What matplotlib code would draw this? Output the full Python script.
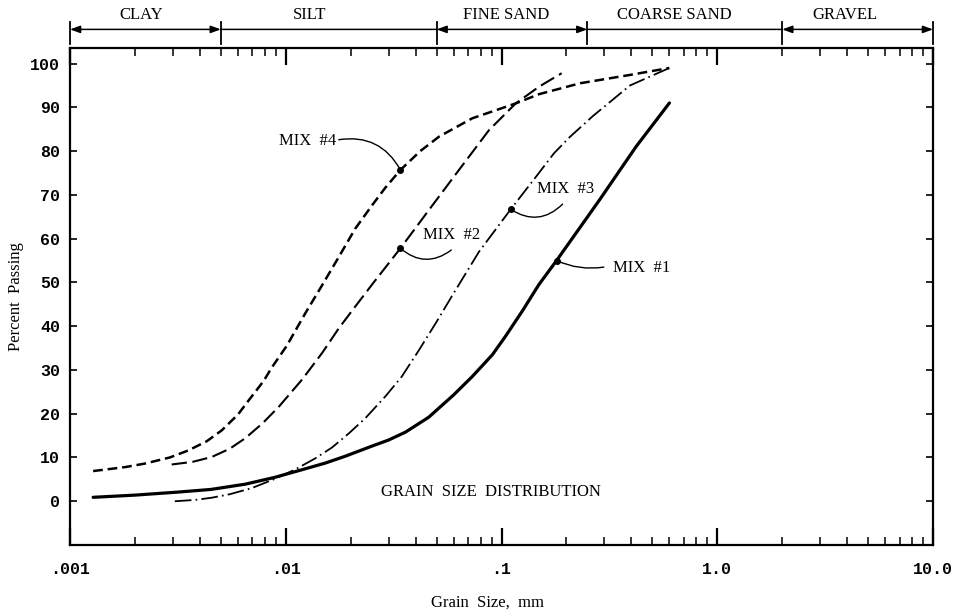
import numpy as np
import matplotlib.pyplot as plt
import matplotlib.transforms as mtransforms
from matplotlib.ticker import LogLocator, NullFormatter

plt.rcParams['font.family'] = ['Liberation Serif', 'DejaVu Serif']
plt.rcParams['lines.scale_dashes'] = False

# soil classes, boundaries in mm
class_names = ['CLAY', 'SILT', 'FINE SAND', 'COARSE SAND', 'GRAVEL']
class_edges = [0.001, 0.005, 0.05, 0.25, 2.0, 10.0]
class_heads = [True, False, True, False, True]

# grain size curves, size in mm / percent passing
mix1_d = [0.00128, 0.002, 0.00318, 0.0045, 0.00649, 0.0088, 0.0115, 0.0152, 0.0189,
          0.0251, 0.030, 0.0359, 0.046, 0.0513, 0.060, 0.0732, 0.0908, 0.1047,
          0.125, 0.149, 0.18, 0.286, 0.42, 0.6]
mix1_p = [0.9, 1.4, 2.1, 2.7, 3.9, 5.4, 7.0, 8.7, 10.3,
          12.6, 14.0, 15.8, 19.2, 21.3, 24.3, 28.5, 33.5, 37.8,
          43.5, 49.5, 55.0, 69.0, 81.0, 91.0]

mix2_d = [0.00296, 0.0037, 0.00453, 0.0055, 0.00649, 0.0078, 0.00925, 0.0119,
          0.0148, 0.0176, 0.021, 0.0251, 0.034, 0.046, 0.0635, 0.0875, 0.1164,
          0.149, 0.19]
mix2_p = [8.4, 9.0, 10.1, 12.0, 14.4, 17.8, 21.5, 27.8,
          34.0, 39.5, 44.5, 49.5, 57.8, 66.5, 75.7, 84.8, 90.9,
          94.7, 97.8]

mix3_d = [0.00306, 0.0038, 0.00453, 0.0055, 0.00695, 0.0088, 0.0111, 0.0137,
          0.0164, 0.0196, 0.0234, 0.029, 0.0345, 0.0414, 0.050, 0.0591, 0.0786,
          0.1103, 0.149, 0.175, 0.207, 0.265, 0.394, 0.6]
mix3_p = [0.0, 0.3, 0.8, 1.6, 3.0, 5.0, 7.3, 9.8,
          12.3, 15.5, 19.0, 24.0, 28.5, 34.5, 41.0, 47.0, 57.0,
          66.7, 75.0, 79.5, 83.2, 88.0, 95.0, 99.0]

mix4_d = [0.00128, 0.0018, 0.00222, 0.0029, 0.00353, 0.0043, 0.00505, 0.006,
          0.00672, 0.0079, 0.0086, 0.0101, 0.0123, 0.0148, 0.0176, 0.021, 0.0251,
          0.029, 0.034, 0.042, 0.0513, 0.0732, 0.1164, 0.149, 0.231, 0.393, 0.6]
mix4_p = [6.9, 7.8, 8.6, 10.0, 11.6, 13.7, 16.2, 19.8,
          23.0, 27.5, 30.5, 35.5, 42.9, 49.5, 55.8, 62.3, 67.6,
          71.7, 75.7, 80.0, 83.3, 87.5, 90.9, 93.0, 95.5, 97.4, 99.0]

x_ticks = [0.001, 0.01, 0.1, 1.0, 10.0]
x_ticklabels = ['.001', '.01', '.1', '1.0', '10.0']
y_ticks = list(range(0, 101, 10))

fig = plt.figure(figsize=(9.54, 6.11), dpi=100)
ax = fig.add_axes([0.0734, 0.108, 0.9046, 0.813])

ax.plot(mix1_d, mix1_p, color='black', lw=2.3, solid_capstyle='round',
        solid_joinstyle='round')
ax.plot(mix2_d, mix2_p, color='black', lw=1.5, dashes=(11, 4))
ax.plot(mix3_d, mix3_p, color='black', lw=1.3, dashes=(12, 3, 1.2, 3))
ax.plot(mix4_d, mix4_p, color='black', lw=1.8, dashes=(7, 3.5))

# label dots + leaders
leader = dict(arrowstyle='-', lw=1.0, color='black', shrinkA=0, shrinkB=0)
i1 = mix1_d.index(0.18)
i2 = mix2_d.index(0.034)
i3 = mix3_d.index(0.1103)
i4 = mix4_d.index(0.034)
ax.plot([mix1_d[i1], mix2_d[i2], mix3_d[i3], mix4_d[i4]],
        [mix1_p[i1], mix2_p[i2], mix3_p[i3], mix4_p[i4]],
        'o', color='black', ms=4)

ax.text(0.0171, 82.3, 'MIX  #4', ha='right', va='center', fontsize=12)
ax.annotate('', xy=(mix4_d[i4], mix4_p[i4]), xytext=(0.0176, 82.6),
            arrowprops=dict(leader, connectionstyle='arc3,rad=-0.35'))

ax.text(0.0585, 60.8, 'MIX  #2', ha='center', va='center', fontsize=12)
ax.annotate('', xy=(mix2_d[i2], mix2_p[i2]), xytext=(0.0585, 57.4),
            arrowprops=dict(leader, connectionstyle='arc3,rad=-0.4'))

ax.text(0.199, 71.3, 'MIX  #3', ha='center', va='center', fontsize=12)
ax.annotate('', xy=(mix3_d[i3], mix3_p[i3]), xytext=(0.192, 67.9),
            arrowprops=dict(leader, connectionstyle='arc3,rad=-0.4'))

ax.text(0.328, 53.4, 'MIX  #1', ha='left', va='center', fontsize=12)
ax.annotate('', xy=(mix1_d[i1], mix1_p[i1]), xytext=(0.298, 53.5),
            arrowprops=dict(leader, connectionstyle='arc3,rad=-0.15'))

ax.text(0.0897, 2.0, 'GRAIN  SIZE  DISTRIBUTION', ha='center', va='center', fontsize=12)

# axes, ticks
ax.set_xscale('log')
ax.set_xlim(0.001, 10)
ax.set_ylim(-10, 103.5)
ax.set_xticks(x_ticks)
ax.set_xticklabels(x_ticklabels)
ax.xaxis.set_minor_locator(LogLocator(base=10, subs=np.arange(2, 10)))
ax.xaxis.set_minor_formatter(NullFormatter())
ax.set_yticks(y_ticks)
ax.tick_params(axis='x', which='major', direction='in', length=12, width=1.6,
               top=True, pad=12)
ax.tick_params(axis='x', which='minor', direction='in', length=5.5, width=1.1, top=True)
ax.tick_params(axis='y', which='major', direction='in', length=5, width=1.2,
               right=True, pad=7)
for lab in ax.get_xticklabels() + ax.get_yticklabels():
    lab.set_fontfamily('Liberation Mono')
    lab.set_fontsize(12)
    lab.set_fontweight('bold')
for sp in ax.spines.values():
    sp.set_linewidth(1.6)

ax.set_xlabel('Grain  Size,  mm', fontsize=12)
ax.xaxis.set_label_coords(0.484, -0.10)
ax.set_ylabel('Percent  Passing', fontsize=12)
ax.yaxis.set_label_coords(-0.053, 0.5)

# soil class band above the plot
trans = mtransforms.blended_transform_factory(ax.transData, ax.transAxes)
band_y = 1.038
for x in class_edges:
    ax.plot([x, x], [1.008, 1.053], color='black', lw=1.3, transform=trans, clip_on=False)
label_x = [0.00214, 0.0129, 0.105, 0.63, 3.9]
for name, x0, x1, heads, lx in zip(class_names, class_edges[:-1], class_edges[1:],
                                   class_heads, label_x):
    style = '<|-|>,head_length=0.6,head_width=0.22' if heads else '-'
    ax.annotate('', xy=(x1, band_y), xytext=(x0, band_y), xycoords=trans,
                textcoords=trans, annotation_clip=False,
                arrowprops=dict(arrowstyle=style, lw=1.1, color='black',
                                shrinkA=0, shrinkB=0, mutation_scale=10))
    ax.text(lx, 1.066, name, transform=trans, ha='center', va='center', fontsize=12)

fig.savefig('out.png', dpi=100)
